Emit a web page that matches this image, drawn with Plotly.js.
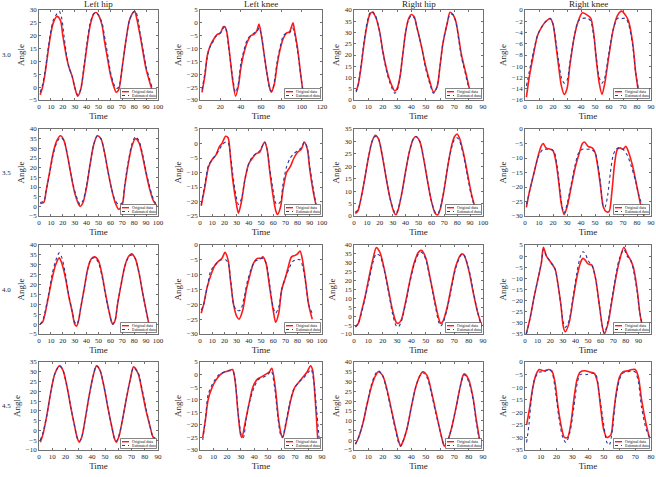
<!DOCTYPE html>
<html>
<head>
<meta charset="utf-8">
<script src="https://cdn.plot.ly/plotly-3.0.1.min.js"></script>
<style>html,body{margin:0;padding:0;background:#fff;}#chart{width:656px;height:477px;}</style>
</head>
<body>
<div id="chart"></div>
<script>
// ---------- labels ----------
var jointNames = ["Left hip", "Left knee", "Right hip", "Right knee"];
var speedLabels = ["3.0", "3.5", "4.0", "4.5"];
var seriesNames = ["Original data", "Estimated data"];

// ---------- speed 3.0 ----------
var lh30_t = [1,3,5,8,10,12,15,18,20,23,25,28,30,32.5,35,38,40,43,46,48,50,53,55,58,60,63,65,67,70,73,76,79,80.5,82,85,88,90,93,95,97];
var lh30_orig = [-3,0,5,15,21,25,27.5,26,20,12,8,4,0,-3.5,-1,8,15,24,28.5,29,28,24,18,10,5,0,-2,-1,8,18,26,29,29.5,27,20,12,7,2,-1,-3];
var lh30_est_t = [1,3,5,8,10,12,15,17,19,21,23,25,28,30,32.5,35,38,40,43,46,48,50,53,55,58,60,63,65,67,70,73,76,79,81,83,85,88,90,93,95,97];
var lh30_est = [-2,1,6,16,22,26,28.5,29.5,27,20,13,8,4,0,-3,-1,9,16,25,28.5,29,28,25,20,12,6,1,-0.5,0,8,18,26,29,29.5,27,21,13,8,3,0,-2];

var lk30_t = [2,5,7,10,14,17,20,23,24.5,26,27,30,32,35,38,40,43,47,50,53,56,58,60,63,66,69,70,73,76,79,82,85,88,90,91.5,93,96,99,101];
var lk30_orig = [-27,-20,-13,-9,-6,-4.5,-4,-1.5,-1.5,-3,-5,-15,-22,-28.5,-24,-18,-12,-7,-5,-4.5,-3,-0.5,-4,-12,-20,-26,-27,-24,-16,-10,-6,-4,-3.5,-1.5,0,-3,-10,-20,-26];
var lk30_est_t = [2,5,7,9,12,15,18,21,23,24.5,26,28,30,32,35,38,40,43,47,50,53,56,58,60,63,66,69,71,73,76,79,82,85,88,91,93,96,99,101];
var lk30_est = [-26,-19,-14,-10,-8,-5.5,-4.5,-3.5,-2,-1.5,-3,-9,-15,-21,-27,-23,-16,-11,-6,-5,-4,-3.5,-2,-4,-12,-20,-26,-26.5,-23,-15,-9,-5,-4,-4,-2,-4,-11,-20,-26];

var rh30_t = [1.5,3,5,7,9,11,12.5,15,18,20,23,26,28.5,30,32,34,36,38,40,42,44,47,50,53,55.5,58,60,62,65,67,69,71,73,75,78,80.5];
var rh30_orig = [4,7,15,25,33,38,39,37,30,22,13,7,4,5,10,20,30,36,38,37,32,24,15,8,3.5,6,15,25,34,39,38,35,28,20,12,5];
var rh30_est_t = rh30_t;
var rh30_est = [3.5,7,16,26,34,38.5,39.5,37.5,30,22,12,6,3,4,10,20,30,35.5,37.5,36.5,32,24,14,7,3,6,15,25,34,38,38,35,27,19,11,4];

var rk30_t = [1,3,6,9,12,15,18,20,22,24,26,28,30,32,35,38,41,45,47,49,51,53,55,57,60,63,66,69,72,74,77,79,81];
var rk30_orig = [-15.5,-12,-8,-4.5,-3,-2,-1.5,-2.5,-6,-10,-13.5,-15,-14,-10,-5,-2,-0.5,-1,-1.5,-4,-9,-13,-15,-13,-8,-3.5,-1,-0.2,-1,-2,-6,-11,-14.5];
var rk30_est_t = rk30_t;
var rk30_est = [-13.5,-11,-7.5,-4.5,-3,-2,-1.5,-2.5,-5.5,-9,-12,-13,-12.5,-9.5,-5,-2,-1.5,-1.5,-2,-4.5,-8.5,-12,-13,-12,-7.5,-3.5,-1.5,-1.5,-1.5,-2.5,-6.5,-11,-14];

// ---------- speed 3.5 ----------
var lh35_t = [1,4,6,9,12,15,18,21,24,27,30,33,34.5,37,40,43,46,49,52,55,58,61,64,67,70,72,75,78,81,84,87,90,93,96,99];
var lh35_orig = [1.5,2,8,18,28,34,36.5,34,26,16,7,1.5,0,2,10,22,32,36.5,35,28,18,9,2,-1.5,1,10,22,31,35,33,26,17,9,3,0];
var lh35_est_t = lh35_t;
var lh35_est = [2,2.5,8,17,27,33,35.5,34,26,16,8,2.5,1,3,11,22,32,36.5,35,28,18,9,3,1,2,11,23,32,36,34,27,18,10,4,0.5];

var lk35_t = [1,4,7,10,13,16,18,21,23,25,27,29.5,31.5,34,37,40,43,46,49,51,53,55,57,59.5,62,63.5,66,68,71,74,77,80,83,85.5,88,90,93,95];
var lk35_orig = [-21.5,-15,-8,-5.5,-4,-1,0,2.5,2,-5,-13,-20,-24,-20,-12,-7,-5,-3.5,-3,-1,0.5,-2,-9,-17,-23,-24.5,-22,-16,-10,-8,-5,-3,-2,0.5,-2,-9,-17,-21];
var lk35_est_t = lk35_t;
var lk35_est = [-21,-14,-7.5,-5.5,-4,-2,-0.5,0.5,0.3,-4,-11,-18,-21,-19,-12,-7,-4.5,-3.5,-2.5,-1,0.5,-2,-8,-15,-20.5,-21,-20,-14,-8,-5,-3.5,-2.5,-1.5,0.5,-1.5,-8,-16,-21];

var rh35_t = [1,3,5,8,11,14,16.5,19,22,25,28,31,32.5,34,37,40,43,46,48,51,54,57,60,63,65,67,70,73,76,78,80,82,85,88,91,94];
var rh35_orig = [1,2,6,14,23,30,32.5,31,24,15,7,1.5,0.5,2,9,18,26,31,32,30,23,14,6,1,0.5,3,11,21,29,32,33,31,25,17,9,3];
var rh35_est_t = rh35_t;
var rh35_est = [1.5,2.5,6,14,23,30,32,31,24,15,7,2,1,2.5,9,18,26,31,32,30,23,14,6,1.5,1,3.5,11,21,28,31,31.5,30,24,16,8,3];

var rk35_t = [1,3,6,9,11.5,13,15,18,20,22,24,26,28,30,33,36,39,41,42.5,45,48,50,52,54,56,58,60,62,64,66,68,70,72,74,77,80,83,85];
var rk35_orig = [-27,-22,-16,-10,-6,-5,-6.5,-7,-7.5,-11,-18,-26,-29.5,-27,-20,-13,-8,-5,-4.5,-6,-6.5,-8,-13,-20,-27,-28.5,-28.5,-22,-12,-7,-6.5,-7,-6,-8,-13,-20,-27,-30];
var rk35_est_t = [1,4,7,10,13,16,19,21,23,25,27,28,30,33,36,38.5,41,44,47,50,52,54,55.5,57,59,61,63,65,67,70,73,76,79,82,85];
var rk35_est = [-26,-20,-14,-9,-7,-7,-7,-8,-13,-21,-28,-29,-26,-19,-12,-8,-7,-7,-7,-8,-12,-19,-26,-27,-23,-15,-9,-7,-6.5,-7,-9,-13,-18,-24,-27];

// ---------- speed 4.0 ----------
var lh40_t = [1,3,5,8,11,14,17,19,22,25,28,30,31.5,33,35,38,41,44,47,50,53,56,59,61,62,64,66,69,72,75,78,81,84,87,90,92];
var lh40_orig = [0,1,5,14,23,30,33.5,31,24,14,6,0,-1,1,8,18,28,33,34,32,25,15,6,1,0,2,10,20,29,34,35.5,33,26,16,7,1];
var lh40_est_t = lh40_t;
var lh40_est = [0,1.5,6,15,25,32,36,34,26,15,6,1,0,1.5,8,18,28,33,33.5,31,24,14,6,1,0,2,10,20,29,33.5,35,33,26,16,7,0.5];

var lk40_t = [1,3,6,9,12,15,18,20.5,23,25,27.5,30,32,35,38,41,44,47,50,51.5,54,57,60,62,64.5,67,70,72,75,78,80,82,84,86.5,89,92];
var lk40_orig = [-23,-20,-14,-10,-7,-5.5,-4.5,-2.5,-5,-12,-20,-24,-25,-22,-15,-10,-6,-4.5,-4.5,-4,-6,-14,-22,-26,-23,-15,-11,-8,-4,-3.5,-3,-2,-5,-12,-20,-25];
var lk40_est_t = [1,3,6,9,12,15,18,21,23,25.5,27.5,30,33,36,39,42,45,48,51,54,57,60,62,64.5,67,70,73,76,79,82,84,87,89,92];
var lk40_est = [-22,-20,-14,-8.5,-7,-5.5,-5,-5,-6,-13,-20,-22,-22,-18,-12,-8,-5.5,-5,-4.5,-6,-13,-21,-23,-21,-15,-11,-8,-5.5,-5,-5,-7,-14,-20,-23];

var rh40_t = [1,3,5,8,11,13.5,15.5,18,21,24,27,29.5,31,33,36,39,42,45,47,50,53,56,59,60.5,62,65,68,71,74,75.5,77,80,83,86,89];
var rh40_orig = [-6,-4,2,12,24,33,38.5,36,27,15,3,-3.5,-4,-2,8,20,30,36,37,33,22,10,-1,-4,-3,5,17,28,34,35,34,26,14,3,-5];
var rh40_est_t = rh40_t;
var rh40_est = [-6,-4,1,11,22,31,35,34,26,14,1,-5.5,-6,-3,7,19,29,35,36,32,21,9,-3,-5.5,-4,4,16,27,33.5,35,34,27,15,3,-6];

var rk40_t = [1,4,7,10,13,14.6,17,19.5,22,24,26,28.5,30.5,32,35,38,41,44,46,48,50,53,56,59,61.5,63,66,69,72,75,78.5,81,84,86,89,91,92.8];
var rk40_orig = [-35,-28,-19,-11,-3,4,0,-2,-4,-6,-12,-22,-32,-34,-30,-20,-10,-3,-1,-2,-3.5,-4,-10,-22,-32,-35,-30,-20,-10,-2,4,1,-2,-5,-15,-25,-31];
var rk40_est_t = rk40_t;
var rk40_est = [-35,-28,-19,-11,-3,3,0,-2,-4,-6,-12,-22,-30,-32,-29,-19,-8,0,2,1,-2,-4,-10,-22,-32,-34.5,-29,-19,-9,-1,3,0,-2,-6,-16,-25,-30];

// ---------- speed 4.5 ----------
var lh45_t = [1,3,6,9,12,15.5,18,21,24,27,29,30.5,32.5,35,38,41,43.5,46,49,52,55,57,58.5,60.5,63,66,69,71.5,75,78,81,84,86,88];
var lh45_orig = [-6,-2,8,20,29,33,31,23,12,2,-4,-6,-3,6,18,28,33,31,23,12,2,-4,-6,-3,5,16,26,32.5,29,20,10,2,-3,-5];
var lh45_est_t = lh45_t;
var lh45_est = [-5,-1,8,20,29,33,31,23,12,2,-4,-5.5,-3,6,18,28,33,31,23,12,2,-4,-5.5,-2.5,5,16,26,32,29.5,21,11,2,-3,-4];

var lk45_t = [2,4,6,9,12,15,18,21,24,26,28,30,31,33,36,39,42,45,48,51,53,55.5,58,60,61,64,67,70,73,76,79,81.5,83,85,87];
var lk45_orig = [-25,-18,-10,-5,-2,0,1,1.5,2,-3,-15,-24,-25,-20,-12,-5,-2,-1,0,1,2.5,-5,-18,-24,-25,-18,-10,-5,-3,-1,1,3.5,2,-10,-27];
var lk45_est_t = [2,4,6,10,14,18,22,24.5,26.5,28.5,30.5,32,34,37,40,43,47,50,52.5,55,57.5,59.5,61,63,66,69,73,77,80,82,84,86,88];
var lk45_est = [-26,-18,-8,-3,0,1,1.5,1,-5,-17,-24,-25,-18,-10,-5,-2,-1,0,1.5,-5,-17,-24,-25,-20,-12,-6,-3,-1,1,2,-3,-14,-26];

var rh45_t = [1,3,6,9,12,15,17,20,23,26,29,31,32.5,34,37,40,43,46,48,51,54,57,60,62,63,65,68,71,74,76,77,80,83,85,87,88.5];
var rh45_orig = [-2,1,8,18,27,33,35,33,26,16,6,0,-3,-1,6,17,27,33,35,33,25,15,5,-1,-3,-1,6,16,27,33,34,31,22,12,3,-3];
var rh45_est_t = rh45_t;
var rh45_est = [-2,1,8,18,28,34,35.5,33,25,15,5,-1,-3,-1,6,17,27,33,34.5,32,24,14,5,-1,-2.5,-1,6,16,27,32.5,33.5,30,21,11,2,-3];

var rk45_t = [1,3,5,7,9,12,15,17,19,21,23.5,25,27,29,31,33,35,38,41,44,46,48,50,52,54.5,56,58,60,62,65,68,70,72,74,77,79];
var rk45_orig = [-25,-18,-10,-5,-3,-3.5,-3,-3.5,-8,-18,-27,-30,-30,-25,-15,-7,-4,-3.5,-4,-4.5,-8,-18,-27,-30,-29,-22,-12,-6,-4,-3.5,-3,-3,-6,-15,-25,-30];
var rk45_est_t = [1,2.5,4,6,9,12,15,17,19,21.5,24,26,28.5,31,33,35,39,43,45,47,50,52,53.5,55.5,57.5,60,62,65,68,70,72,74,77,79];
var rk45_est = [-32,-25,-15,-7,-4,-4,-3,-4,-10,-22,-30,-32,-28,-18,-9,-5,-5,-4.5,-5,-12,-25,-32,-33,-27,-15,-7,-4.5,-4,-3.5,-4,-8,-18,-27,-30];

// ---------- axis ranges (x range, y range, x step, y step) ----------
var panels = [
  [lh30_t,lh30_orig,lh30_est_t,lh30_est,[0,100],[-5,30],10,5],
  [lk30_t,lk30_orig,lk30_est_t,lk30_est,[0,120],[-30,5],20,5],
  [rh30_t,rh30_orig,rh30_est_t,rh30_est,[0,90],[0,40],10,5],
  [rk30_t,rk30_orig,rk30_est_t,rk30_est,[0,90],[-16,0],10,2],
  [lh35_t,lh35_orig,lh35_est_t,lh35_est,[0,100],[-5,40],10,5],
  [lk35_t,lk35_orig,lk35_est_t,lk35_est,[0,100],[-25,5],10,5],
  [rh35_t,rh35_orig,rh35_est_t,rh35_est,[0,100],[0,35],10,5],
  [rk35_t,rk35_orig,rk35_est_t,rk35_est,[0,90],[-30,0],10,5],
  [lh40_t,lh40_orig,lh40_est_t,lh40_est,[0,100],[-5,40],10,5],
  [lk40_t,lk40_orig,lk40_est_t,lk40_est,[0,100],[-30,0],10,5],
  [rh40_t,rh40_orig,rh40_est_t,rh40_est,[0,90],[-10,40],10,5],
  [rk40_t,rk40_orig,rk40_est_t,rk40_est,[0,100],[-35,5],10,5],
  [lh45_t,lh45_orig,lh45_est_t,lh45_est,[0,90],[-10,35],10,5],
  [lk45_t,lk45_orig,lk45_est_t,lk45_est,[0,90],[-30,5],10,5],
  [rh45_t,rh45_orig,rh45_est_t,rh45_est,[0,90],[-5,40],10,5],
  [rk45_t,rk45_orig,rk45_est_t,rk45_est,[0,80],[-35,0],10,5]
];

// ---------- layout geometry ----------
var W = 656, H = 477;
var colPx = [[39,158],[200,322],[354,483],[525,651]];
var rowPx = [[10,100],[129,216],[245,334],[362,450]];
var FONT = "Liberation Serif, Times New Roman, serif";
var TXT = "#262626";
var RED = "#ff1a1a", BLUE = "#2a3899", AX = "#4d4d4d";

var traces = [];
var layout = {
  width: W, height: H,
  margin: {l:0, r:0, t:0, b:0},
  paper_bgcolor: "#ffffff", plot_bgcolor: "#ffffff",
  showlegend: false,
  font: {family: FONT, color: TXT, size: 7},
  shapes: [], annotations: []
};

panels.forEach(function(p, i) {
  var r = Math.floor(i / 4), c = i % 4, n = i + 1;
  var xa = "x" + (n > 1 ? n : ""), ya = "y" + (n > 1 ? n : "");
  var xk = "xaxis" + (n > 1 ? n : ""), yk = "yaxis" + (n > 1 ? n : "");
  var dx = [colPx[c][0] / W, colPx[c][1] / W];
  var dy = [1 - rowPx[r][1] / H, 1 - rowPx[r][0] / H];
  traces.push({x: p[0], y: p[1], xaxis: xa, yaxis: ya, type: "scatter", mode: "lines",
    name: seriesNames[0], line: {color: RED, width: 1.6, shape: "spline", smoothing: 0.8}});
  traces.push({x: p[2], y: p[3], xaxis: xa, yaxis: ya, type: "scatter", mode: "lines",
    name: seriesNames[1], line: {color: BLUE, width: 1.1, dash: "dot", shape: "spline", smoothing: 0.8}});
  var common = {color: TXT, showline: true, mirror: "ticks", linecolor: AX, linewidth: 0.8,
    ticks: "inside", ticklen: 2, tickwidth: 0.8, tickcolor: AX, showgrid: false, zeroline: false,
    tickfont: {family: FONT, size: 7, color: TXT}, fixedrange: true};
  layout[xk] = Object.assign({}, common, {domain: dx, anchor: ya, range: p[4], dtick: p[6], tick0: 0,
    title: {text: "Time", font: {family: FONT, size: 9, color: TXT}, standoff: 2}});
  layout[yk] = Object.assign({}, common, {domain: dy, anchor: xa, range: p[5], dtick: p[7], tick0: 0,
    title: {text: "Angle", font: {family: FONT, size: 9, color: TXT}, standoff: 3}});

  // legend box (drawn in axis-domain coordinates)
  var aw = colPx[c][1] - colPx[c][0], ah = rowPx[r][1] - rowPx[r][0];
  var bw = 36, bh = 10, inset = 1.5;
  var x1 = 1 - inset / aw, x0 = x1 - bw / aw;
  var y0 = inset / ah, y1 = y0 + bh / ah;
  var ref = {xref: xa + " domain", yref: ya + " domain"};
  layout.shapes.push(Object.assign({type: "rect", x0: x0, x1: x1, y0: y0, y1: y1,
    line: {color: "#333", width: 0.6}, fillcolor: "#ffffff"}, ref));
  var rowY = [y1 - 3.2 / ah, y0 + 3.0 / ah];
  var lx0 = x0 + 1.5 / aw, lx1 = x0 + 8.5 / aw;
  layout.shapes.push(Object.assign({type: "line", x0: lx0, x1: lx1, y0: rowY[0], y1: rowY[0],
    line: {color: RED, width: 1.4}}, ref));
  layout.shapes.push(Object.assign({type: "line", x0: lx0, x1: lx1, y0: rowY[1], y1: rowY[1],
    line: {color: BLUE, width: 1, dash: "dot"}}, ref));
  for (var k = 0; k < 2; k++) {
    layout.annotations.push(Object.assign({x: x0 + 9.5 / aw, y: rowY[k], xanchor: "left", yanchor: "middle",
      text: seriesNames[k], showarrow: false, font: {family: FONT, size: 4, color: "#111"}}, ref));
  }
});

// column titles
jointNames.forEach(function(t, c) {
  layout.annotations.push({xref: "paper", yref: "paper", x: (colPx[c][0] + colPx[c][1]) / 2 / W, y: 1 - 4 / H,
    xanchor: "center", yanchor: "middle", text: t, showarrow: false, font: {family: FONT, size: 9, color: TXT}});
});
// row labels
speedLabels.forEach(function(t, r) {
  layout.annotations.push({xref: "paper", yref: "paper", x: 0, y: 1 - (rowPx[r][0] + rowPx[r][1]) / 2 / H,
    xanchor: "left", yanchor: "middle", text: t, showarrow: false, font: {family: FONT, size: 7, color: TXT}});
});

Plotly.newPlot("chart", traces, layout, {staticPlot: true, displayModeBar: false});
</script>
</body>
</html>
